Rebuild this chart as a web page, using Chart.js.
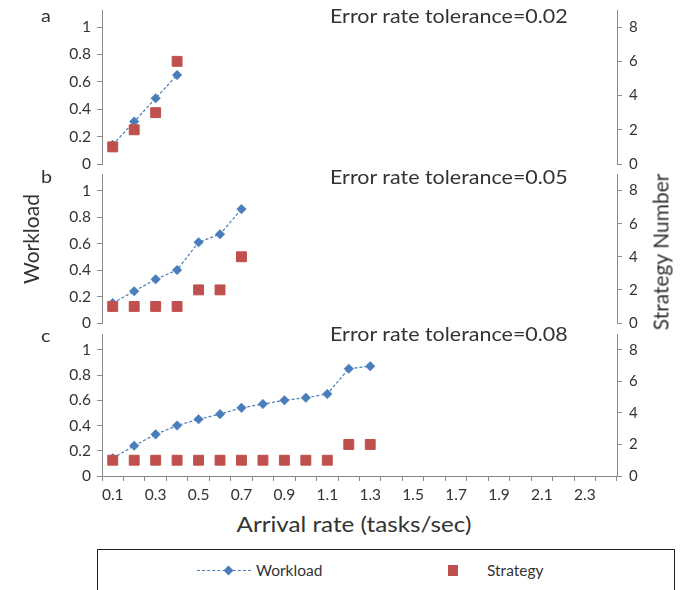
<!DOCTYPE html>
<html>
<head>
<meta charset="utf-8">
<script src="https://cdn.jsdelivr.net/npm/chart.js@4.4.1/dist/chart.umd.min.js"></script>
<style>
  body { margin: 0; background: #fff; font-family: Lato, "Open Sans", sans-serif; color: #333; }
  #wrap { position: relative; width: 681px; height: 590px; overflow: hidden; background: #fff; }
  canvas { position: absolute; left: 0; }
  .txt { position: absolute; white-space: nowrap; line-height: 1; }
  .letter { font-size: 18px; left: 41px; transform: scaleX(1.1); transform-origin: left center; }
  .tol { font-size: 19px; left: 330px; transform: scaleX(1.13); transform-origin: left center; }
  .rot { transform: translate(-50%, -50%) rotate(-90deg); font-size: 21px; }
  #legend { position: absolute; left: 97px; top: 549px; width: 576px; height: 60px; border: 1px solid #222; }
  .leg { position: absolute; top: 13px; font-size: 15.5px; line-height: 1; }
</style>
</head>
<body>
<div id="wrap">
  <canvas id="panelA" width="681" height="176" style="top:0px"></canvas>
  <canvas id="panelB" width="681" height="166" style="top:166px"></canvas>
  <canvas id="panelC" width="681" height="180" style="top:326px"></canvas>

  <div class="txt letter" style="top:6px">a</div>
  <div class="txt letter" style="top:167px">b</div>
  <div class="txt letter" style="top:326px">c</div>

  <div class="txt tol" id="tolA" style="top:6px"></div>
  <div class="txt tol" id="tolB" style="top:167px"></div>
  <div class="txt tol" id="tolC" style="top:324px"></div>

  <div class="txt rot" style="left:30px; top:239px">Workload</div>
  <div class="txt rot" style="left:660px; top:252px">Strategy Number</div>
  <div class="txt" style="left:354px; top:524px; transform:translate(-50%,-50%) scaleX(1.1); font-size:22px">Arrival rate (tasks/sec)</div>

  <div id="legend">
    <div style="position:absolute; left:99px; top:20px; width:54px; border-top:1.3px dashed #4A7EBB"></div>
    <div style="position:absolute; left:127px; top:17px; width:7px; height:7px; background:#4A7EBB; transform:rotate(45deg)"></div>
    <div class="leg" style="left:158px">Workload</div>
    <div style="position:absolute; left:350px; top:15px; width:10px; height:11px; background:#C0504D"></div>
    <div class="leg" style="left:389px">Strategy</div>
  </div>
</div>

<script>
// arrival rate categories (tasks/sec)
const categories = ['0.1', '0.2', '0.3', '0.4', '0.5', '0.6', '0.7', '0.8', '0.9', '1.0', '1.1', '1.2',
                    '1.3', '1.4', '1.5', '1.6', '1.7', '1.8', '1.9', '2.0', '2.1', '2.2', '2.3', '2.4'];
const xTickLabels = ['0.1', '', '0.3', '', '0.5', '', '0.7', '', '0.9', '', '1.1', '',
                     '1.3', '', '1.5', '', '1.7', '', '1.9', '', '2.1', '', '2.3', ''];

const tolerances = ['0.02', '0.05', '0.08'];

// panel a
const workloadA = [0.14, 0.31, 0.48, 0.65];
const strategyA = [1, 2, 3, 6];
// panel b
const workloadB = [0.15, 0.24, 0.33, 0.40, 0.61, 0.67, 0.86];
const strategyB = [1, 1, 1, 1, 2, 2, 4];
// panel c
const workloadC = [0.14, 0.24, 0.33, 0.40, 0.45, 0.49, 0.54, 0.57, 0.60, 0.62, 0.65, 0.85, 0.87];
const strategyC = [1, 1, 1, 1, 1, 1, 1, 1, 1, 1, 1, 2, 2];

const workloadMax = 1.125;
const strategyMax = 9;

const BLUE = '#4A7EBB';
const RED = '#C0504D';
const AXIS = '#8a8a8a';
const TEXT = '#333333';

Chart.defaults.font.family = 'Lato, "Open Sans", sans-serif';
Chart.defaults.color = TEXT;

['tolA', 'tolB', 'tolC'].forEach((id, i) => {
    document.getElementById(id).textContent = 'Error rate tolerance=' + tolerances[i];
});

function makePanel(id, workload, strategy, pad, showX) {
    const ctx = document.getElementById(id).getContext('2d');
    return new Chart(ctx, {
        type: 'line',
        data: {
            labels: categories,
            datasets: [
                {
                    label: 'Workload',
                    data: workload,
                    yAxisID: 'y',
                    borderColor: BLUE,
                    backgroundColor: BLUE,
                    borderWidth: 1.2,
                    borderDash: [3, 2],
                    pointStyle: 'rectRot',
                    pointRadius: 4.8,
                    pointBorderWidth: 0.5,
                    tension: 0,
                    order: 1
                },
                {
                    label: 'Strategy',
                    data: strategy,
                    yAxisID: 'y2',
                    showLine: false,
                    borderColor: RED,
                    backgroundColor: RED,
                    pointStyle: 'rect',
                    pointRadius: 7,
                    pointBorderWidth: 1,
                    order: 0
                }
            ]
        },
        options: {
            responsive: false,
            animation: false,
            layout: { padding: pad },
            plugins: { legend: { display: false }, tooltip: { enabled: false } },
            scales: {
                x: {
                    type: 'category',
                    display: showX,
                    offset: true,
                    grid: { offset: true, drawOnChartArea: false, tickLength: 5, color: AXIS },
                    border: { color: AXIS },
                    ticks: {
                        autoSkip: false,
                        maxRotation: 0,
                        padding: 5,
                        font: { size: 15.5 },
                        callback: (v, i) => xTickLabels[i]
                    },
                    afterFit: s => {
                        if (showX) s.height = 30;
                        s.paddingLeft = 0;
                        s.paddingRight = 0;
                    }
                },
                y: {
                    position: 'left',
                    min: 0,
                    max: workloadMax,
                    grid: { drawOnChartArea: false, tickLength: 5, color: AXIS },
                    border: { color: AXIS },
                    ticks: {
                        stepSize: 0.2,
                        includeBounds: false,
                        padding: 6,
                        font: { size: 15.5 },
                        callback: v => String(Number(v.toFixed(1)))
                    },
                    afterFit: s => { s.width = 102; s.paddingTop = 0; s.paddingBottom = 0; }
                },
                y2: {
                    position: 'right',
                    min: 0,
                    max: strategyMax,
                    grid: { drawOnChartArea: false, tickLength: 5, color: AXIS },
                    border: { color: AXIS },
                    ticks: {
                        stepSize: 2,
                        includeBounds: false,
                        padding: 7,
                        font: { size: 15 }
                    },
                    afterFit: s => { s.width = 64; s.paddingTop = 0; s.paddingBottom = 0; }
                }
            }
        }
    });
}

makePanel('panelA', workloadA, strategyA, { top: 10, bottom: 12, left: 0, right: 0 }, false);
makePanel('panelB', workloadB, strategyB, { top: 8, bottom: 9, left: 0, right: 0 }, false);
makePanel('panelC', workloadC, strategyC, { top: 7, bottom: 0, left: 0, right: 0 }, true);
</script>
</body>
</html>
